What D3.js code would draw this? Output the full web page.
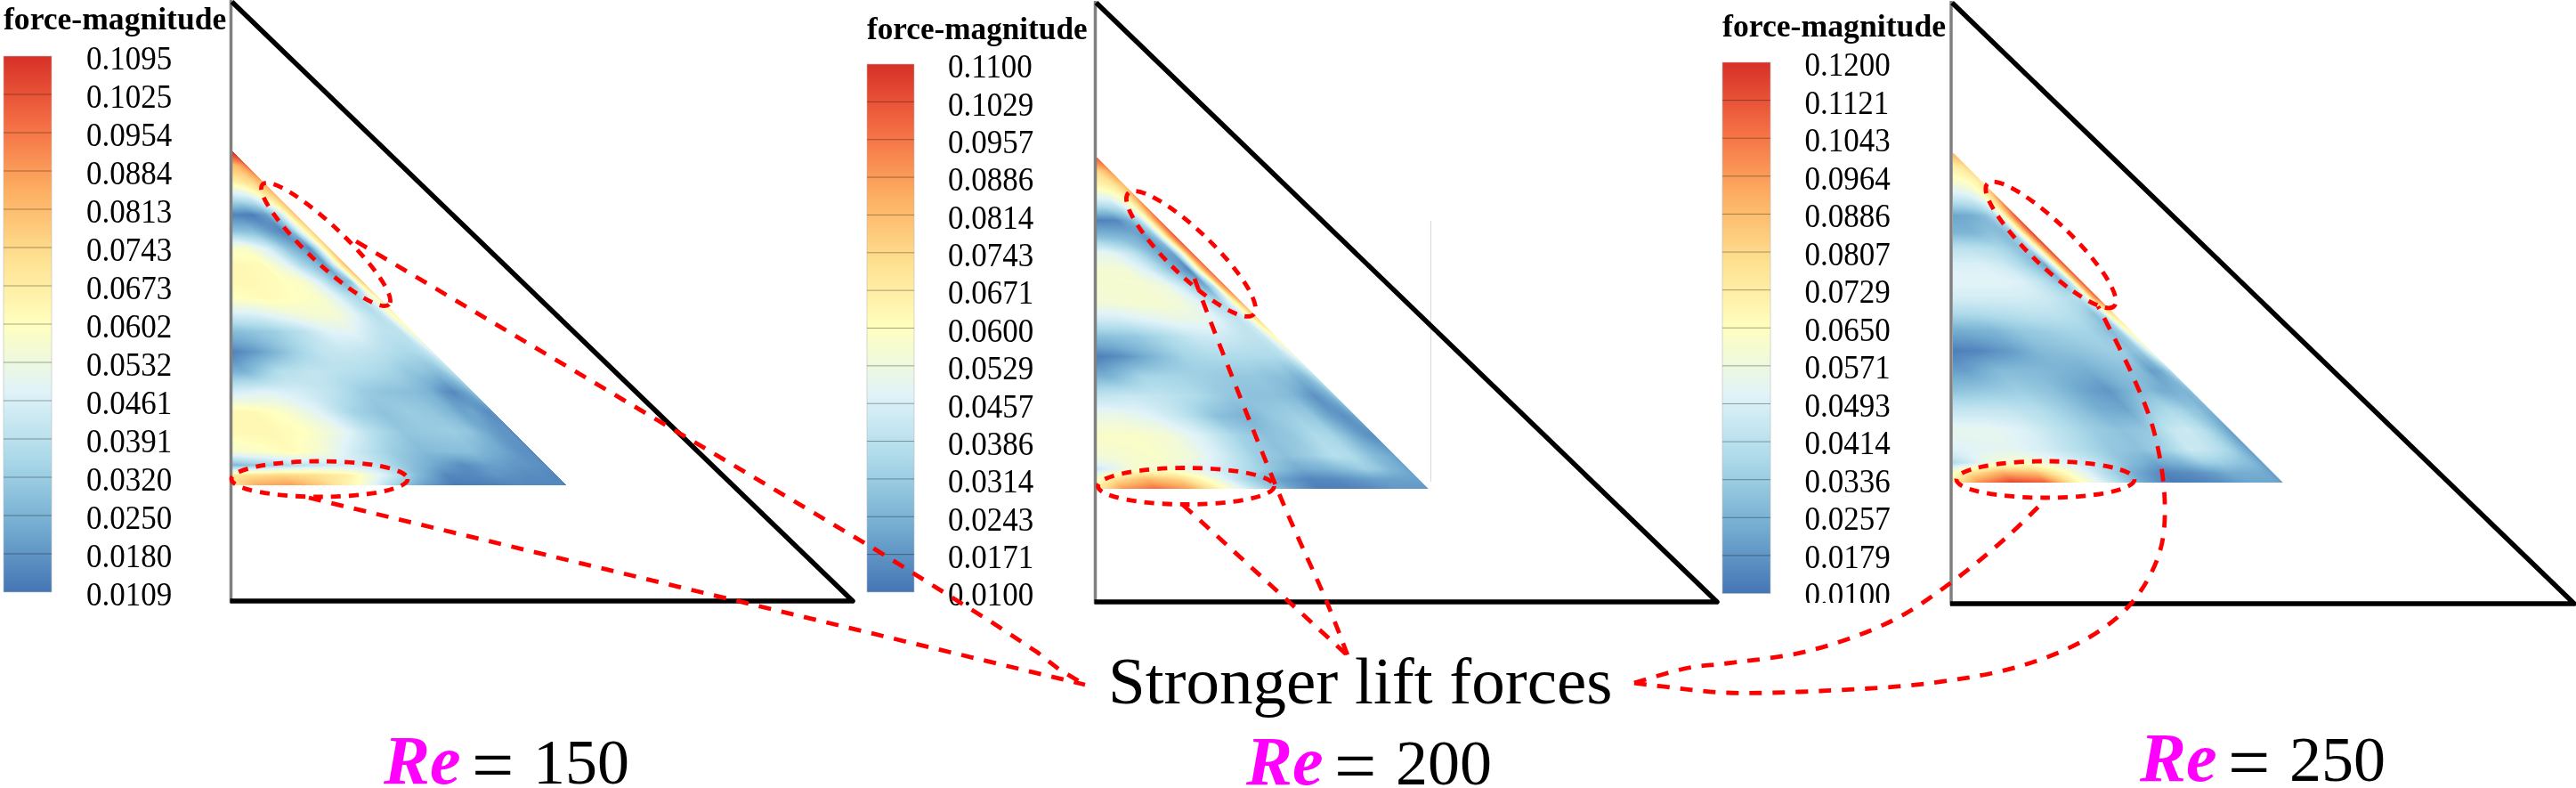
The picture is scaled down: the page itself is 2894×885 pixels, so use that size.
<!DOCTYPE html>
<html>
<head>
<meta charset="utf-8">
<script src="https://cdn.jsdelivr.net/npm/d3@7"></script>
<style>
  html, body { margin: 0; padding: 0; background: #fff; overflow: hidden; }
  #chart { position: relative; width: 2894px; height: 885px; }
  #chart canvas, #chart svg { position: absolute; left: 0; top: 0; }
</style>
</head>
<body>
<div id="chart"></div>
<script>
// colour bar ticks
const ticks150 = ["0.1095","0.1025","0.0954","0.0884","0.0813","0.0743","0.0673","0.0602","0.0532","0.0461","0.0391","0.0320","0.0250","0.0180","0.0109"];
const ticks200 = ["0.1100","0.1029","0.0957","0.0886","0.0814","0.0743","0.0671","0.0600","0.0529","0.0457","0.0386","0.0314","0.0243","0.0171","0.0100"];
const ticks250 = ["0.1200","0.1121","0.1043","0.0964","0.0886","0.0807","0.0729","0.0650","0.0571","0.0493","0.0414","0.0336","0.0257","0.0179","0.0100"];

const palette = ["#4575b4","#74add1","#abd9e9","#e0f3f8","#ffffbf","#fee090","#fdae61","#f46d43","#d73027"];

// force magnitude sampled by eye: one row per depth below the top corner,
// one column per distance in from the sloping edge (both as share of the triangle side)
const rowsY = [0,.04,.09,.14,.19,.24,.29,.34,.39,.44,.49,.54,.60,.66,.72,.78,.84,.90,.94,.97,1];
const colsD = [0,.015,.035,.06,.09,.13,.18,.25,.33,.42,.52,.62,.72,.82,.92,1];

const field150 = [
  [.110],
  [.098,.088,.082,.080],
  [.086,.080,.074,.070,.066],
  [.080,.074,.066,.053,.043,.040],
  [.080,.070,.050,.033,.020,.013,.014],
  [.076,.066,.050,.028,.014,.020,.028,.030],
  [.078,.064,.040,.016,.022,.030,.045,.058,.058],
  [.082,.068,.045,.020,.028,.035,.050,.062,.063,.063],
  [.078,.063,.030,.025,.032,.046,.058,.061,.063,.063],
  [.068,.055,.045,.035,.040,.050,.058,.060,.062,.060,.060],
  [.064,.058,.043,.038,.042,.050,.056,.056,.052,.046,.044],
  [.060,.050,.040,.040,.040,.043,.049,.048,.039,.032,.028,.027],
  [.050,.042,.038,.036,.036,.038,.040,.042,.041,.032,.020,.012],
  [.040,.034,.029,.028,.030,.030,.034,.037,.039,.041,.038,.025,.024],
  [.030,.023,.019,.015,.018,.025,.028,.029,.032,.040,.045,.048,.045],
  [.018,.016,.018,.022,.021,.026,.030,.032,.029,.034,.048,.058,.063,.063],
  [.016,.018,.018,.020,.024,.030,.032,.031,.030,.038,.052,.060,.063,.063,.063],
  [.016,.017,.017,.019,.022,.024,.028,.028,.027,.032,.042,.055,.062,.058,.055],
  [.016,.017,.017,.018,.018,.020,.020,.016,.022,.030,.042,.044,.040,.034,.027,.027],
  [.015,.015,.016,.016,.016,.017,.018,.015,.015,.028,.048,.066,.072,.075,.072,.068],
  [.014,.015,.015,.015,.015,.015,.014,.013,.012,.020,.035,.060,.076,.088,.086,.070]
];

const field200 = [
  [.100],
  [.090,.082,.076,.074],
  [.080,.076,.068,.064,.062],
  [.092,.078,.062,.052,.042,.040],
  [.098,.085,.060,.038,.024,.014,.013],
  [.102,.088,.060,.030,.018,.024,.026,.028],
  [.100,.085,.050,.020,.020,.028,.040,.050,.050],
  [.098,.085,.055,.014,.022,.032,.045,.055,.056,.056],
  [.095,.080,.040,.022,.030,.043,.053,.056,.056,.056],
  [.085,.068,.048,.035,.038,.048,.054,.056,.056,.054,.054],
  [.075,.063,.045,.040,.042,.048,.051,.051,.048,.044,.043],
  [.062,.054,.042,.040,.040,.042,.044,.042,.036,.030,.028,.028],
  [.052,.044,.038,.036,.036,.036,.036,.036,.034,.026,.016,.011],
  [.040,.032,.026,.025,.028,.028,.030,.030,.032,.034,.034,.024,.024],
  [.032,.024,.020,.016,.020,.026,.028,.028,.030,.036,.040,.042,.040],
  [.022,.018,.016,.018,.022,.030,.032,.030,.024,.028,.040,.048,.052,.052],
  [.016,.016,.018,.022,.028,.034,.036,.030,.028,.034,.046,.055,.058,.058,.058],
  [.020,.022,.024,.026,.030,.036,.038,.032,.028,.032,.044,.054,.058,.056,.054],
  [.020,.022,.024,.026,.030,.032,.028,.024,.022,.030,.040,.048,.056,.056,.045,.030],
  [.020,.020,.020,.020,.020,.020,.018,.015,.014,.020,.035,.055,.075,.082,.070,.050],
  [.018,.018,.018,.018,.018,.016,.014,.012,.012,.022,.040,.062,.088,.098,.090,.065]
];

const field250 = [
  [.090],
  [.082,.076,.072,.072],
  [.076,.070,.066,.062,.060],
  [.098,.080,.064,.052,.046,.044],
  [.112,.095,.066,.040,.030,.024,.022],
  [.116,.098,.066,.034,.028,.030,.026,.026],
  [.115,.095,.060,.036,.030,.036,.040,.042,.042],
  [.112,.092,.055,.022,.030,.038,.046,.050,.050,.050],
  [.110,.090,.045,.028,.036,.044,.050,.052,.052,.052],
  [.108,.090,.050,.040,.040,.044,.047,.048,.048,.048,.048],
  [.078,.070,.040,.030,.036,.040,.042,.042,.040,.038,.037],
  [.068,.058,.035,.028,.032,.036,.036,.034,.032,.026,.024,.024],
  [.060,.045,.032,.030,.034,.034,.032,.030,.028,.020,.014,.012],
  [.040,.030,.022,.020,.028,.030,.028,.024,.026,.028,.028,.020,.020],
  [.030,.026,.026,.024,.024,.028,.026,.018,.022,.030,.034,.032,.030],
  [.026,.026,.030,.032,.036,.038,.034,.022,.024,.032,.040,.044,.044,.044],
  [.020,.024,.030,.036,.042,.046,.044,.032,.030,.034,.042,.050,.054,.054,.054],
  [.020,.024,.030,.036,.040,.044,.046,.036,.030,.032,.040,.048,.053,.052,.050],
  [.020,.024,.028,.030,.032,.034,.034,.026,.022,.030,.044,.054,.062,.058,.042,.030],
  [.020,.022,.024,.024,.024,.024,.020,.016,.014,.024,.042,.064,.088,.092,.076,.055],
  [.020,.022,.022,.022,.022,.020,.016,.013,.011,.022,.044,.068,.110,.116,.100,.070]
];

const reLabels = ["150","200","250"];
const titleText = "force-magnitude";
const calloutText = "Stronger lift forces";

// page layout
const panels = [
  { ticks: ticks150, field: field150, re: reLabels[0],
    tri: { x: 259.5, top: 2, bottom: 675, tip: 958 },
    heat: { x: 261, y: 170, side: 375 },
    bar: { x: 4, w: 54, top: 63, bottom: 665, labelX: 97, first: 66, last: 668 },
    title: { x: 4, y: 33, size: 35.6 },
    reAt: { x: 431, y: 880 },
    ellTop: { cx: 366, cy: 274.5, rx: 98, ry: 21, a: 43.5 },
    ellLow: { cx: 359, cy: 538, rx: 99, ry: 20 } },
  { ticks: ticks200, field: field200, re: reLabels[1],
    tri: { x: 1230.5, top: 3, bottom: 676, tip: 1929 },
    heat: { x: 1232, y: 176.7, side: 372.5 },
    bar: { x: 974, w: 53, top: 72, bottom: 665, labelX: 1065, first: 75, last: 668 },
    title: { x: 974, y: 44, size: 35.2 },
    reAt: { x: 1400, y: 881 },
    ellTop: { cx: 1338, cy: 285, rx: 98, ry: 25, a: 44 },
    ellLow: { cx: 1332.5, cy: 546, rx: 99, ry: 20.5 } },
  { ticks: ticks250, field: field250, re: reLabels[2],
    tri: { x: 2192, top: 3, bottom: 678, tip: 2892 },
    heat: { x: 2194.3, y: 172, side: 370 },
    bar: { x: 1935, w: 54, top: 70, bottom: 666.5, labelX: 2027.5, first: 73, last: 668 },
    title: { x: 1935, y: 41, size: 35.7 },
    reAt: { x: 2404, y: 877 },
    ellTop: { cx: 2304, cy: 275, rx: 99, ry: 24, a: 44 },
    ellLow: { cx: 2298, cy: 538.5, rx: 100, ry: 20.5 } }
];

const leaders = [
  { curve: false, pts: [[400,271],[980,615],[1116,700],[1166,733],[1190,752],[1219,769]] },
  { curve: false, pts: [[347,559],[1219,769]] },
  { curve: true, pts: [[1342,313],[1360,361],[1441,564],[1491,677],[1514,736]] },
  { curve: false, pts: [[1329,567],[1516,738]] },
  { curve: true, pts: [[1836,767],[1897,750],[1940,745],[2032,731],[2126,697],[2195,652],[2257,601],[2298,561]] },
  { curve: true, pts: [[1836,767],[1885,773],[1940,778],[2045,776],[2170,767],[2270,748],[2345,717],[2395,677],[2426,621],[2432,564],[2420,485],[2395,420],[2357,344]] }
];

const W = 2894, H = 885;
const serif = "'Liberation Serif', 'Times New Roman', serif";

const root = d3.select("#chart");
const canvas = root.append("canvas").attr("width", W).attr("height", H);
const ctx = canvas.node().getContext("2d");
const svg = root.append("svg").attr("width", W).attr("height", H);
const defs = svg.append("defs");

const gridIndex = d3.scaleLinear().domain(palette.map((d, i) => i / (palette.length - 1)))
  .range(palette).interpolate(d3.interpolateRgb);

function rowValue(row, d) {
  let j = d3.bisectRight(colsD, d) - 1;
  j = Math.max(0, Math.min(j, colsD.length - 2));
  if (j >= row.length - 1) return row[row.length - 1];
  const t = (d - colsD[j]) / (colsD[j + 1] - colsD[j]);
  return row[j] + (row[j + 1] - row[j]) * t;
}

function fieldValue(field, Y, d) {
  let i = d3.bisectRight(rowsY, Y) - 1;
  i = Math.max(0, Math.min(i, rowsY.length - 2));
  const t = (Y - rowsY[i]) / (rowsY[i + 1] - rowsY[i]);
  return rowValue(field[i], d) * (1 - t) + rowValue(field[i + 1], d) * t;
}

function drawHeat(p) {
  const vmax = +p.ticks[0], vmin = +p.ticks[p.ticks.length - 1];
  const frac = d3.scaleLinear().domain([vmin, vmax]).range([0, 1]).clamp(true);
  const lut = d3.range(512).map(i => d3.rgb(gridIndex(i / 511)));
  const { x, y, side } = p.heat;
  const x0 = Math.floor(x), y0 = Math.floor(y), n = Math.ceil(side) + 2;
  const img = ctx.createImageData(n, n);
  for (let py = 0; py < n; py++) {
    for (let px = 0; px < n; px++) {
      const Y = (py + y0 + .5 - y) / side, X = (px + x0 + .5 - x) / side;
      const d = Y - X;
      if (Y < 0 || Y > 1 || X < 0 || d < -1 / side) continue;
      const c = lut[Math.round(frac(fieldValue(p.field, Y, Math.max(d, 0))) * 511)];
      const k = (py * n + px) * 4;
      img.data[k] = c.r; img.data[k + 1] = c.g; img.data[k + 2] = c.b;
      img.data[k + 3] = 255 * Math.min(1, (d * side + 1) );
    }
  }
  ctx.putImageData(img, x0, y0);
}

function drawBar(p, i) {
  const b = p.bar;
  const g = svg.append("g").attr("class", "legend");
  const gid = "barGrad" + i;
  defs.append("linearGradient").attr("id", gid).attr("x1", 0).attr("x2", 0).attr("y1", 1).attr("y2", 0)
    .selectAll("stop").data(palette).join("stop")
    .attr("offset", (d, j) => j / (palette.length - 1)).attr("stop-color", d => d);
  g.append("rect").attr("x", b.x).attr("y", b.top).attr("width", b.w).attr("height", b.bottom - b.top)
    .attr("fill", `url(#${gid})`).attr("stroke", "#bbb").attr("stroke-width", .6);
  const ySeg = d3.scaleLinear().domain([0, p.ticks.length - 1]).range([b.top, b.bottom]);
  g.selectAll("line").data(d3.range(1, p.ticks.length - 1)).join("line")
    .attr("x1", b.x).attr("x2", b.x + b.w).attr("y1", d => ySeg(d)).attr("y2", d => ySeg(d))
    .attr("stroke", "#000").attr("stroke-opacity", .35).attr("stroke-width", 1);
  const yTick = d3.scalePoint().domain(p.ticks).range([b.first, b.last]);
  const axis = svg.append("g").attr("transform", `translate(${b.labelX},0)`)
    .call(d3.axisRight(yTick).tickSize(0).tickPadding(0));
  axis.select(".domain").remove();
  // labels in the source are a little taller than they are wide
  axis.selectAll("text").attr("font-family", serif).attr("font-size", 37).attr("fill", "#000")
    .attr("transform", "scale(0.945,1)");
  svg.append("text").attr("x", p.title.x).attr("y", p.title.y).text(titleText)
    .attr("font-family", serif).attr("font-weight", "bold").attr("font-size", p.title.size);
}

function drawTriangle(p) {
  const t = p.tri;
  const g = svg.append("g");
  g.append("line").attr("x1", t.x).attr("x2", t.x).attr("y1", t.top - 2).attr("y2", t.bottom + 2)
    .attr("stroke", "#808080").attr("stroke-width", 3.5);
  g.append("path").attr("d", d3.line()([[t.x + 1, t.top], [t.tip, t.bottom], [t.x - 1, t.bottom]]))
    .attr("fill", "none").attr("stroke", "#000").attr("stroke-width", 5.5).attr("stroke-linejoin", "round");
}

function drawRe(p) {
  const txt = svg.append("text").attr("x", p.reAt.x).attr("y", p.reAt.y)
    .attr("font-family", serif).attr("font-size", 72);
  txt.append("tspan").attr("fill", "#ff00ff").attr("font-weight", "bold").attr("font-style", "italic")
    .attr("font-size", 78).text("Re");
  txt.append("tspan").attr("x", p.reAt.x + 99).attr("dy", 8).attr("fill", "#000").attr("font-size", 84).text("=");
  txt.append("tspan").attr("x", p.reAt.x + 168).attr("dy", -8).attr("fill", "#000").text(p.re);
}

panels.forEach(drawHeat);
// stray hairline that sits beside the middle field in the source figure
svg.append("line").attr("x1", 1607.5).attr("x2", 1607.5).attr("y1", 248).attr("y2", 541)
  .attr("stroke", "#d8d8d8").attr("stroke-width", 1);
panels.forEach(drawBar);
panels.forEach(drawTriangle);
panels.forEach(drawRe);
// the last label of the right bar is cut off in the source figure
svg.append("rect").attr("x", 2020).attr("y", 677).attr("width", 120).attr("height", 14).attr("fill", "#fff");

svg.append("text").attr("x", 1245).attr("y", 790).text(calloutText)
  .attr("font-family", serif).attr("font-size", 75);

const red = svg.append("g").attr("fill", "none").attr("stroke", "#ff0000").attr("stroke-width", 4.8);
panels.forEach(p => {
  [p.ellTop, p.ellLow].forEach(e => {
    red.append("ellipse").attr("cx", 0).attr("cy", 0).attr("rx", e.rx).attr("ry", e.ry)
      .attr("transform", `translate(${e.cx},${e.cy}) rotate(${e.a || 0})`)
      .attr("stroke-dasharray", "11 9");
  });
});
const straight = d3.line();
const smooth = d3.line().curve(d3.curveCatmullRom);
red.selectAll("path").data(leaders).join("path")
  .attr("d", d => (d.curve ? smooth : straight)(d.pts))
  .attr("stroke-dasharray", "14 12");
</script>
</body>
</html>
